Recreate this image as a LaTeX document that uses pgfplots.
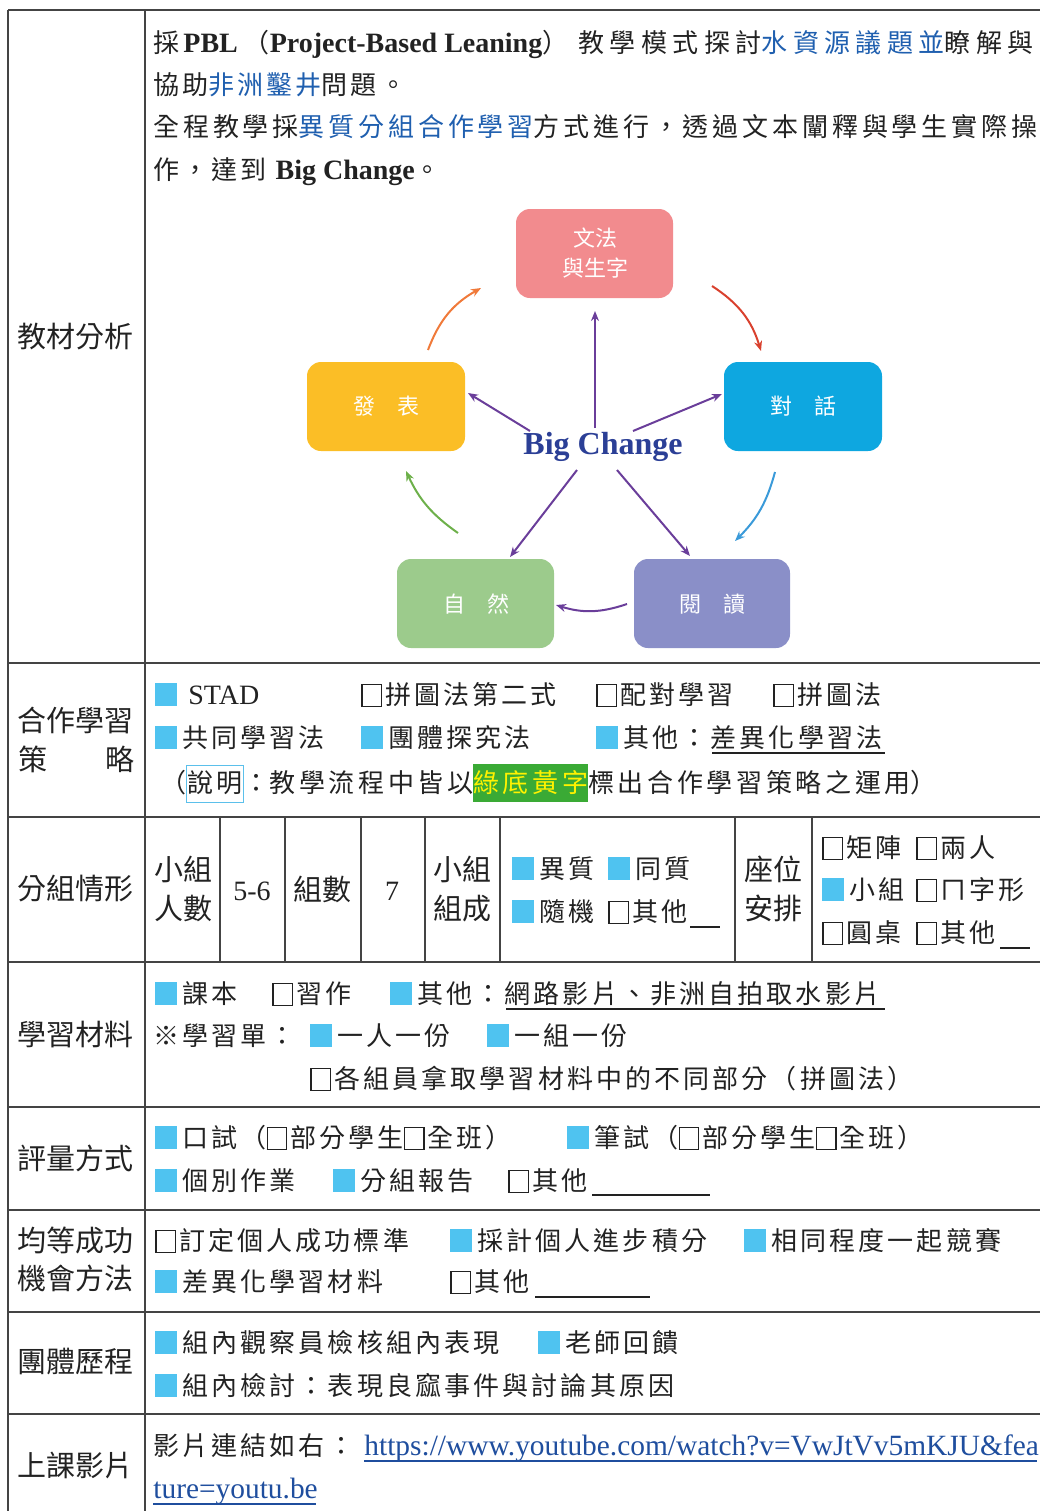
\documentclass[border=0pt]{standalone}
\usepackage{fontspec}
\setmainfont{Liberation Serif}
\newfontfamily\cj[LetterSpace=12]{Noto Sans CJK TC}
\newfontfamily\cjs{Noto Sans CJK TC}
\usepackage{xcolor}
\usepackage{pgfplots}
\pgfplotsset{compat=1.18}
\usetikzlibrary{arrows.meta}
\definecolor{sq}{HTML}{4FC3F0}
\definecolor{txt}{HTML}{222222}
\definecolor{lc}{HTML}{444444}
\definecolor{blu}{HTML}{1F5FAF}
\definecolor{gbg}{HTML}{3AAA35}
\definecolor{ylw}{HTML}{FFF200}
\definecolor{frm}{HTML}{5BC0EB}
\definecolor{url}{HTML}{1F4E9E}
\definecolor{pk}{HTML}{F28B8E}
\definecolor{cy}{HTML}{0EA7E0}
\definecolor{pu}{HTML}{8A8FC8}
\definecolor{gr}{HTML}{9CCB8C}
\definecolor{yl}{HTML}{FBBE26}
\definecolor{bigc}{HTML}{2B3F96}
\definecolor{arr}{HTML}{6A3E9A}
\definecolor{aor}{HTML}{F07A3A}
\definecolor{ard}{HTML}{D9412E}
\definecolor{abl}{HTML}{3A9AD9}
\definecolor{agr}{HTML}{6DB04A}
\newcommand\body{\fontsize{13}{15}\selectfont\cj}
\newcommand\lab{\fontsize{14.5}{16}\selectfont\cjs}
\newcommand\bs{\textcolor{sq}{\rule[-1pt]{11pt}{11.5pt}}\hspace{2.5pt}}
\newcommand\ws{{\setlength\fboxsep{0pt}\setlength\fboxrule{0.6pt}\raisebox{-1pt}{\fbox{\rule{0pt}{10.4pt}\hspace{9.2pt}}}}\hspace{1.5pt}}
\newcommand\la[1]{{\fontsize{14}{16}\selectfont\rmfamily #1}}
\newcommand\lb[1]{{\fontsize{14}{16}\selectfont\rmfamily\bfseries #1}}
\newcommand\bl[1]{\textcolor{blu}{#1}}
\newcommand\T[3]{\node[anchor=base west,inner sep=0pt,font=\body,text=txt] at (axis cs:#1,#2) {#3};}
\newcommand\Lb[3]{\node[anchor=base,inner sep=0pt,font=\lab,text=txt] at (axis cs:#1,#2) {#3};}
\newcommand\U[3]{\addplot[draw=txt,line width=0.6pt] coordinates {(#1,#3)(#2,#3)};}
\newcommand\HL[1]{\addplot[draw=lc,line width=1pt] coordinates {(8,#1)(1040,#1)};}
\newcommand\VL[3]{\addplot[draw=lc,line width=1pt] coordinates {(#1,#2)(#1,#3)};}
\newcommand\BX[6]{\fill[#5,rounded corners=7pt] (axis cs:#1,#2) rectangle (axis cs:#3,#4);}
\newcommand\BT[3]{\node[anchor=center,inner sep=0pt,font=\fontsize{11}{13}\selectfont\cjs,text=white] at (axis cs:#1,#2) {#3};}
\begin{document}
\begin{tikzpicture}
\begin{axis}[width=520pt,height=755.5pt,scale only axis,at={(0,0)},anchor=south west,
  xmin=0,xmax=1040,ymin=0,ymax=1511,y dir=reverse,hide axis,clip=false]
\coordinate (P0) at (rel axis cs:0,0);
\coordinate (P1) at (rel axis cs:1,1);
% grid
\HL{10}\HL{663}\HL{817}\HL{962}\HL{1107}\HL{1210}\HL{1312}\HL{1414}
\VL{8}{10}{1511}\VL{145}{10}{1511}
\VL{220}{817}{962}\VL{285}{817}{962}\VL{361}{817}{962}\VL{425}{817}{962}
\VL{500}{817}{962}\VL{735}{817}{962}\VL{812}{817}{962}
% left labels
\Lb{76}{347}{教材分析}
\Lb{76}{731}{合作學習}
\Lb{33}{770}{策}\Lb{120}{770}{略}
\Lb{76}{899}{分組情形}
\Lb{76}{1045}{學習材料}
\Lb{76}{1169}{評量方式}
\Lb{76}{1251}{均等成功}
\Lb{76}{1289}{機會方法}
\Lb{76}{1372}{團體歷程}
\Lb{76}{1476}{上課影片}
% row 1
\T{153}{52}{採\hspace{2pt}\lb{PBL}\hspace{3pt}（\lb{Project-Based Leaning}）\hspace{5pt}{\addfontfeature{LetterSpace=21}教學模式探討\bl{水資源議題並}瞭解與}}
\T{153}{94}{協助\bl{非洲鑿井}問題。}
\T{153}{136}{{\addfontfeature{LetterSpace=14.8}全程教學採\bl{異質分組合作學習}方式進行，透過文本闡釋與學生實際操}}
\T{153}{179}{作，達到 \lb{Big Change}。}
% diagram
\BX{516}{209}{673}{298}{pk}{}
\BX{724}{362}{882}{451}{cy}{}
\BX{634}{559}{790}{648}{pu}{}
\BX{397}{559}{554}{648}{gr}{}
\BX{307}{362}{465}{451}{yl}{}
\BT{595}{238}{文法}\BT{595}{268}{與生字}
\BT{803}{406}{對　話}
\BT{712}{604}{閱　讀}
\BT{476}{604}{自　然}
\BT{386}{406}{發　表}
\node[font=\fontsize{16}{18}\selectfont\rmfamily\bfseries,text=bigc] at (axis cs:603,447) {Big Change};
\draw[arr,line width=1pt,-{Stealth[length=5pt,width=4pt]}] (axis cs:595,428) -- (axis cs:595,311);
\draw[arr,line width=1pt,-{Stealth[length=5pt,width=4pt]}] (axis cs:530,431) -- (axis cs:468,393);
\draw[arr,line width=1pt,-{Stealth[length=5pt,width=4pt]}] (axis cs:633,431) -- (axis cs:722,394);
\draw[arr,line width=1pt,-{Stealth[length=5pt,width=4pt]}] (axis cs:577,470) -- (axis cs:510,557);
\draw[arr,line width=1pt,-{Stealth[length=5pt,width=4pt]}] (axis cs:617,470) -- (axis cs:690,556);
\draw[aor,line width=1pt,-{Stealth[length=5pt,width=4pt]}] (axis cs:428,350) to[bend left=20] (axis cs:481,288);
\draw[ard,line width=1pt,-{Stealth[length=5pt,width=4pt]}] (axis cs:712,286) to[bend left=20] (axis cs:761,351);
\draw[abl,line width=1pt,-{Stealth[length=5pt,width=4pt]}] (axis cs:775,472) to[bend left=15] (axis cs:735,541);
\draw[arr,line width=1pt,-{Stealth[length=5pt,width=4pt]}] (axis cs:627,604) to[bend left=18] (axis cs:556,605);
\draw[agr,line width=1pt,-{Stealth[length=5pt,width=4pt]}] (axis cs:458,533) to[bend left=15] (axis cs:406,471);
% row 2
\T{155}{704}{\bs\hspace{3pt}\la{STAD}}
\T{361}{704}{\ws 拼圖法第二式}
\T{596}{704}{\ws 配對學習}
\T{773}{704}{\ws 拼圖法}
\T{155}{747}{\bs 共同學習法}
\T{361}{747}{\bs 團體探究法}
\T{596}{747}{\bs 其他：差異化學習法}
\U{712}{885}{753}
\T{160}{792}{（{\setlength\fboxsep{0pt}\setlength\fboxrule{0.5pt}\fcolorbox{frm}{white}{\rule[-5pt]{0pt}{18pt}說明}}：{\addfontfeature{LetterSpace=14}教學流程中皆以{\setlength\fboxsep{0pt}\colorbox{gbg}{\rule[-5pt]{0pt}{19pt}\color{ylw}綠底黃字}}標出合作學習策略之運用}）}
% row 3
\Lb{183}{880}{小組}\Lb{183}{919}{人數}
\node[anchor=base,inner sep=0pt,font=\fontsize{14}{16}\selectfont\rmfamily,text=txt] at (axis cs:252,900) {5-6};
\Lb{322}{900}{組數}
\node[anchor=base,inner sep=0pt,font=\fontsize{14}{16}\selectfont\rmfamily,text=txt] at (axis cs:392,900) {7};
\Lb{462}{880}{小組}\Lb{462}{919}{組成}
\T{512}{878}{\bs 異質}
\T{608}{878}{\bs 同質}
\T{512}{921}{\bs 隨機}
\T{608}{921}{\ws 其他}
\U{690}{720}{927}
\Lb{773}{880}{座位}\Lb{773}{919}{安排}
\T{822}{857}{\ws 矩陣}
\T{916}{857}{\ws 兩人}
\T{822}{899}{\bs 小組}
\T{916}{899}{\ws ㄇ字形}
\T{822}{942}{\ws 圓桌}
\T{916}{942}{\ws 其他}
\U{1000}{1030}{948}
% row 4
\T{155}{1003}{\bs 課本}
\T{272}{1003}{\ws 習作}
\T{390}{1003}{\bs 其他：網路影片、非洲自拍取水影片}
\U{506}{885}{1009}
\T{153}{1045}{※學習單：}
\T{310}{1045}{\bs 一人一份}
\T{487}{1045}{\bs 一組一份}
\T{310}{1088}{\ws 各組員拿取學習材料中的不同部分（拼圖法）}
% row 5
\T{155}{1147}{\bs 口試（\ws 部分學生\ws 全班）}
\T{567}{1147}{\bs 筆試（\ws 部分學生\ws 全班）}
\T{155}{1190}{\bs 個別作業}
\T{333}{1190}{\bs 分組報告}
\T{508}{1190}{\ws 其他}
\U{592}{710}{1195}
% row 6
\T{155}{1250}{\ws 訂定個人成功標準}
\T{450}{1250}{\bs 採計個人進步積分}
\T{744}{1250}{\bs 相同程度一起競賽}
\T{155}{1291}{\bs 差異化學習材料}
\T{450}{1291}{\ws 其他}
\U{535}{650}{1297}
% row 7
\T{155}{1352}{\bs 組內觀察員檢核組內表現}
\T{538}{1352}{\bs 老師回饋}
\T{155}{1395}{\bs 組內檢討：表現良窳事件與討論其原因}
% row 8
\T{153}{1455}{影片連結如右：}
\node[anchor=base west,inner sep=0pt,font=\fontsize{14.7}{16}\selectfont\rmfamily,text=url] at (axis cs:364,1455) {https://www.youtube.com/watch?v=VwJtVv5mKJU\&fea};
\addplot[draw=url,line width=0.6pt] coordinates {(364,1461)(1037,1461)};
\node[anchor=base west,inner sep=0pt,font=\fontsize{14.7}{16}\selectfont\rmfamily,text=url] at (axis cs:153,1498) {ture=youtu.be};
\addplot[draw=url,line width=0.6pt] coordinates {(153,1504)(316,1504)};
\end{axis}
\pgfresetboundingbox
\path[use as bounding box] (P0) rectangle (P1);
\end{tikzpicture}
\end{document}
